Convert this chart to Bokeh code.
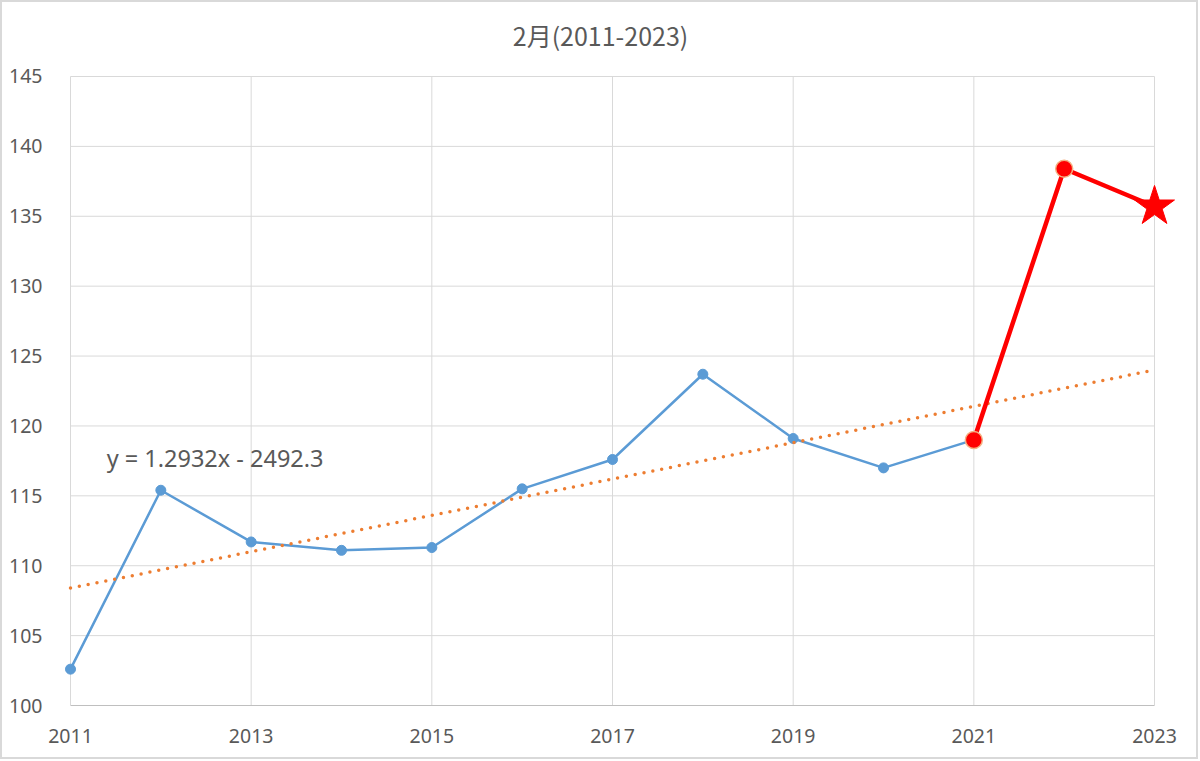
from bokeh.plotting import figure
from bokeh.models import FixedTicker, Label, Range1d
from bokeh.embed import file_html
from bokeh.resources import INLINE

# ---- data ----
years = [2011, 2012, 2013, 2014, 2015, 2016, 2017, 2018, 2019, 2020, 2021]
values = [102.6, 115.4, 111.7, 111.1, 111.3, 115.5, 117.6, 123.7, 119.1, 117.0, 119.0]
red_years = [2021, 2022, 2023]
red_values = [119.0, 138.4, 135.7]
circle_years = [2021, 2022]
circle_values = [119.0, 138.4]
star_years = [2023]
star_values = [135.7]
trend_years = [2011, 2023]
trend_values = [108.4, 124.0]
x_ticks = [2011, 2013, 2015, 2017, 2019, 2021, 2023]
x_tick_labels = ["2011", "2013", "2015", "2017", "2019", "2021", "2023"]
y_ticks = [100, 105, 110, 115, 120, 125, 130, 135, 140, 145]
title_text = "2月(2011-2023)"
equation_text = "y = 1.2932x - 2492.3"

FONT = "Noto Sans"
GREY = "#595959"
GRID = "#d9d9d9"
X_START, X_END = 2011, 2023
Y_START, Y_END = 100, 145

# frame extends above the 145 line so the title can sit inside it
p = figure(width=1198, height=759, output_backend="svg", toolbar_location=None,
           x_range=Range1d(2010.845, 2023.354), y_range=Range1d(Y_START, 150.294),
           min_border_left=54, min_border_right=14, min_border_top=0, min_border_bottom=56)
p.styles = {"border": "2px solid #d9d9d9", "box-sizing": "border-box"}
p.outline_line_color = None
p.background_fill_color = "white"
p.border_fill_color = "white"

p.xaxis.ticker = FixedTicker(ticks=x_ticks)
p.xaxis.major_label_overrides = {t: s for t, s in zip(x_ticks, x_tick_labels)}
p.xaxis.bounds = (X_START, X_END)
p.yaxis.ticker = FixedTicker(ticks=y_ticks)
p.yaxis.major_label_overrides = {t: str(t) for t in y_ticks}
p.yaxis.axis_line_color = None

p.xgrid.visible = False
p.ygrid.visible = False
# gridlines limited to the 2011-2023 / 100-145 box
p.segment(x0=[X_START] * (len(y_ticks) - 1), x1=[X_END] * (len(y_ticks) - 1),
          y0=y_ticks[1:], y1=y_ticks[1:], line_color=GRID, line_width=1)
p.segment(x0=x_ticks, x1=x_ticks, y0=[Y_START] * len(x_ticks), y1=[Y_END] * len(x_ticks),
          line_color=GRID, line_width=1)

for ax in (p.xaxis, p.yaxis):
    ax.major_tick_line_color = None
    ax.minor_tick_line_color = None
    ax.major_label_text_font = FONT
    ax.major_label_text_font_size = "19.5px"
    ax.major_label_text_color = GREY
p.xaxis.axis_line_color = "#bfbfbf"
p.xaxis.major_label_standoff = 17
p.yaxis.major_label_standoff = 8

# blue series
p.line(years, values, line_color="#5b9bd5", line_width=2.5)
p.scatter(years, values, size=10, fill_color="#5b9bd5", line_color="#5b9bd5")

# trend line
p.line(trend_years, trend_values, line_color="#ed7d31", line_width=3.5,
       line_dash="0 9", line_cap="round")

# red segment
p.line(red_years, red_values, line_color="#ff0000", line_width=4.5)
p.scatter(circle_years, circle_values, size=17, fill_color="#ff0000",
          line_color="#f4b183", line_width=1.5)
p.scatter(star_years, star_values, marker="star", size=42, fill_color="#ff0000",
          line_color="#ff0000")

p.add_layout(Label(x=2016.867, y=148.0, text=title_text, text_align="center",
                   text_baseline="middle", text_font="Noto Sans CJK JP",
                   text_font_size="25px", text_color=GREY))
p.add_layout(Label(x=2011.4, y=117.7, text=equation_text, text_align="left",
                   text_baseline="middle", text_font=FONT,
                   text_font_size="23.5px", text_color=GREY))

open("out.html", "w").write(file_html(p, INLINE))
